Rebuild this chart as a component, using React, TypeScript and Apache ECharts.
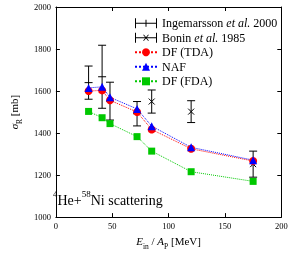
import React, { useEffect, useRef } from 'react';
import * as echarts from 'echarts';

const FONT = '"Liberation Serif", "DejaVu Serif", serif';

// Theory energies (MeV per nucleon)
const energies = [29, 41, 48, 72, 85, 120, 175];
const dfTDA = [1600, 1603, 1556, 1500, 1417, 1325, 1267];
const naf = [1615, 1620, 1570, 1515, 1433, 1332, 1271];
const dfFDA = [1503, 1473, 1445, 1383, 1314, 1216, 1170];

// Experimental data
const ingE = [29, 41, 48, 72];
const ingVal = [1640, 1668, 1552, 1492];
const ingErr = [79, 150, 90, 58];

const bonE = [85, 120, 175];
const bonVal = [1550, 1502, 1252];
const bonErr = [55, 52, 62];

const xTicks = [0, 50, 100, 150, 200];
const yTicks = [1000, 1200, 1400, 1600, 1800, 2000];

const NAME_ING = 'Ingemarsson et al. 2000';
const NAME_BON = 'Bonin et al. 1985';

const ICON_ING =
  'path://M0,0 H1 V10 H0 Z M21,0 H22 V10 H21 Z M0,4.5 H22 V5.5 H0 Z M10.5,1.5 H11.5 V8.5 H10.5 Z';
const ICON_BON =
  'path://M0,0 H1 V10 H0 Z M21,0 H22 V10 H21 Z M0,4.5 H22 V5.5 H0 Z M8,2 L9,2 L14,8 L13,8 Z M13,2 L14,2 L9,8 L8,8 Z';

function errorBar(kind: 'plus' | 'cross') {
  return (_params: any, api: any) => {
    const x = api.value(0);
    const y = api.value(1);
    const e = api.value(2);
    const c = api.coord([x, y]);
    const hi = api.coord([x, y + e]);
    const lo = api.coord([x, y - e]);
    const w = 4;
    const style = { stroke: '#000', lineWidth: 1, fill: null };
    const children: any[] = [
      { type: 'line', shape: { x1: c[0], y1: hi[1], x2: c[0], y2: lo[1] }, style },
      { type: 'line', shape: { x1: c[0] - w, y1: hi[1], x2: c[0] + w, y2: hi[1] }, style },
      { type: 'line', shape: { x1: c[0] - w, y1: lo[1], x2: c[0] + w, y2: lo[1] }, style },
    ];
    if (kind === 'plus') {
      children.push({ type: 'line', shape: { x1: c[0] - w, y1: c[1], x2: c[0] + w, y2: c[1] }, style });
    } else {
      const d = 3;
      children.push({ type: 'line', shape: { x1: c[0] - d, y1: c[1] - d, x2: c[0] + d, y2: c[1] + d }, style });
      children.push({ type: 'line', shape: { x1: c[0] - d, y1: c[1] + d, x2: c[0] + d, y2: c[1] - d }, style });
    }
    return { type: 'group', children };
  };
}

export default function App() {
  const ref = useRef<HTMLDivElement>(null);
  useEffect(() => {
    const chart = echarts.init(ref.current!, null, { renderer: 'svg' });
    const axisCommon = {
      axisLine: { show: true, onZero: false, lineStyle: { color: '#000', width: 1 } },
      axisTick: { show: true, inside: true, length: 4, lineStyle: { color: '#000' } },
      splitLine: { show: false },
    };
    const lineSeries = (name: string, data: number[], color: string, symbol: string, size: number) => ({
      name,
      type: 'line',
      data: energies.map((e, i) => [e, data[i]]),
      symbol,
      symbolSize: size,
      itemStyle: { color },
      lineStyle: { color, type: 'dotted', width: 1 },
      z: 3,
    });
    const plain = (v: number) => String(v);
    chart.setOption({
      animation: false,
      grid: { left: 42.7, right: 9.7, top: 7, bottom: 32.3 },
      legend: {
        orient: 'vertical',
        left: 129,
        top: 12.3,
        itemWidth: 22,
        itemHeight: 10,
        itemGap: 2.5,
        data: [
          { name: NAME_ING, icon: ICON_ING },
          { name: NAME_BON, icon: ICON_BON },
          { name: 'DF (TDA)' },
          { name: 'NAF' },
          { name: 'DF (FDA)' },
        ],
        formatter: (name: string) => {
          if (name === NAME_ING) return '{n|Ingemarsson }{i|et al.}{n| 2000}';
          if (name === NAME_BON) return '{n|Bonin }{i|et al.}{n| 1985}';
          return '{n|' + name + '}';
        },
        textStyle: {
          fontFamily: FONT,
          fontSize: 12,
          color: '#000',
          lineHeight: 12,
          rich: {
            n: { fontFamily: FONT, fontSize: 12, color: '#000', lineHeight: 12 },
            i: { fontFamily: FONT, fontSize: 12, color: '#000', fontStyle: 'italic', lineHeight: 12 },
          },
        },
      },
      xAxis: [
        {
          type: 'value',
          min: xTicks[0],
          max: xTicks[xTicks.length - 1],
          interval: 50,
          ...axisCommon,
          axisLabel: { fontFamily: FONT, fontSize: 8.5, color: '#000', margin: 4, formatter: plain },
          name: '{i|E}{sub|in}{n| / }{i|A}{sub|P}{n| [MeV]}',
          nameLocation: 'middle',
          nameGap: 15,
          nameTextStyle: {
            fontFamily: FONT,
            fontSize: 11,
            color: '#000',
            rich: {
              n: { fontFamily: FONT, fontSize: 11, color: '#000', lineHeight: 12, verticalAlign: 'top' },
              i: { fontFamily: FONT, fontSize: 11, color: '#000', fontStyle: 'italic', lineHeight: 12, verticalAlign: 'top' },
              sub: { fontFamily: FONT, fontSize: 7.5, color: '#000', lineHeight: 8, padding: [7, 0, 0, 0], verticalAlign: 'top' },
            },
          },
        },
        {
          type: 'value',
          position: 'top',
          min: xTicks[0],
          max: xTicks[xTicks.length - 1],
          interval: 50,
          ...axisCommon,
          axisLabel: { show: false },
        },
      ],
      yAxis: [
        {
          type: 'value',
          min: yTicks[0],
          max: yTicks[yTicks.length - 1],
          interval: 200,
          ...axisCommon,
          axisLabel: { fontFamily: FONT, fontSize: 8.5, color: '#000', margin: 5, formatter: plain },
          name: '{i|σ}{sub|R}{n| [mb]}',
          nameLocation: 'middle',
          nameGap: 33,
          nameTextStyle: {
            fontFamily: FONT,
            fontSize: 11,
            color: '#000',
            rich: {
              n: { fontFamily: FONT, fontSize: 11, color: '#000', lineHeight: 12, verticalAlign: 'top' },
              i: { fontFamily: FONT, fontSize: 11, color: '#000', fontStyle: 'italic', lineHeight: 12, verticalAlign: 'top' },
              sub: { fontFamily: FONT, fontSize: 7.5, color: '#000', lineHeight: 8, padding: [7, 0, 0, 0], verticalAlign: 'top' },
            },
          },
        },
        {
          type: 'value',
          position: 'right',
          min: yTicks[0],
          max: yTicks[yTicks.length - 1],
          interval: 200,
          ...axisCommon,
          axisLabel: { show: false },
        },
      ],
      graphic: [
        {
          type: 'text',
          left: 53,
          top: 189,
          style: {
            text: '{sup|4}{m|He+}{sup|58}{m|Ni scattering}',
            fill: '#000',
            rich: {
              m: { fontFamily: FONT, fontSize: 14, fill: '#000', lineHeight: 15, padding: [4, 0, 0, 0], verticalAlign: 'top' },
              sup: { fontFamily: FONT, fontSize: 9, fill: '#000', lineHeight: 9, verticalAlign: 'top' },
            },
          },
        },
      ],
      series: [
        {
          name: NAME_ING,
          type: 'custom',
          renderItem: errorBar('plus'),
          data: ingE.map((e, i) => [e, ingVal[i], ingErr[i]]),
          encode: { x: 0, y: 1 },
          itemStyle: { color: '#000' },
          clip: false,
          z: 2,
        },
        {
          name: NAME_BON,
          type: 'custom',
          renderItem: errorBar('cross'),
          data: bonE.map((e, i) => [e, bonVal[i], bonErr[i]]),
          encode: { x: 0, y: 1 },
          itemStyle: { color: '#000' },
          clip: false,
          z: 2,
        },
        lineSeries('DF (TDA)', dfTDA, '#ff0000', 'circle', 8),
        lineSeries('NAF', naf, '#0000ff', 'triangle', 8),
        lineSeries('DF (FDA)', dfFDA, '#00c800', 'rect', 7),
      ],
    });
    return () => chart.dispose();
  }, []);
  return <div ref={ref} style={{ position: 'fixed', left: 0, top: 0, width: 291, height: 255 }} />;
}
